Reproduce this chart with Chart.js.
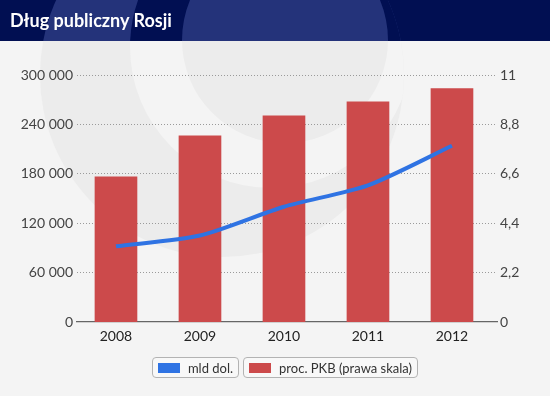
<!DOCTYPE html>
<html>
<head>
<meta charset="utf-8">
<script src="https://cdn.jsdelivr.net/npm/chart.js@4"></script>
<style>
    body { margin: 0; overflow: hidden; background: #f4f4f4; }
    #wrap { position: relative; width: 550px; height: 396px; }
    #dataChart { position: absolute; left: 0; top: 0; }
    #title {
        position: absolute; left: 10px; top: 0; height: 41px;
        color: #fff; font: bold 18px Lato, sans-serif; line-height: 40px;
    }
    #legend {
        position: absolute; left: 0; width: 570px; top: 357px;
        display: flex; justify-content: center; gap: 4px;
        font: 13px Lato, sans-serif; color: #333;
    }
    .item {
        display: flex; align-items: center; height: 19px;
        border: 1px solid #b3b3b3; border-radius: 4px; padding: 0 5px 0 5px;
        background: rgba(255,255,255,0.35);
    }
    .swatch { width: 22px; height: 10px; margin-right: 8px; }
</style>
</head>
<body>
<div id="wrap">
    <canvas id="dataChart" width="550" height="396"></canvas>
    <div id="title">Dług publiczny Rosji</div>
    <div id="legend"></div>
</div>
<script>
const years = [2008, 2009, 2010, 2011, 2012];
const debtUsd = [92000, 105000, 140000, 166000, 214000];
const debtPctGdp = [6.47, 8.29, 9.18, 9.81, 10.39];
const leftTicks = [0, 60000, 120000, 180000, 240000, 300000];
const rightTicks = [0, 2.2, 4.4, 6.6, 8.8, 11];

const ctx = document.getElementById('dataChart');

Chart.defaults.font.family = 'Lato';
Chart.defaults.font.size = 14;

// background, header and the faint logo behind the chart
function drawLogo(c, bg, fg) {
    c.fillStyle = fg;
    c.beginPath(); c.arc(222, 75, 182, 0, Math.PI * 2); c.fill();
    c.save();
    c.beginPath(); c.arc(222, 75, 182, 0, Math.PI * 2); c.clip();
    c.fillStyle = bg;
    c.beginPath(); c.arc(271, 47, 141, 0, Math.PI * 2); c.fill();
    c.fillStyle = fg;
    c.beginPath(); c.arc(285, 40, 103, 0, Math.PI * 2); c.fill();
    c.restore();
}

var backdrop = {
    id: 'backdrop',
    beforeDraw: function(chart) {
        const c = chart.ctx;
        c.save();
        c.fillStyle = '#f4f4f4';
        c.fillRect(0, 0, 550, 396);
        c.save();
        c.beginPath(); c.rect(0, 41, 550, 355); c.clip();
        drawLogo(c, '#f4f4f4', '#ececec');
        c.restore();
        c.save();
        c.beginPath(); c.rect(0, 0, 550, 41); c.clip();
        c.fillStyle = '#010f52';
        c.fillRect(0, 0, 550, 41);
        drawLogo(c, '#010f52', '#24337a');
        c.restore();
        c.restore();
    }
};

function fmtLeft(v) {
    return String(v).replace(/\B(?=(\d{3})+(?!\d))/g, ' ');
}
function fmtRight(v) {
    return String(Math.round(v * 10) / 10).replace('.', ',');
}

var chartData = {
    datasets: [{
        type: 'line',
        label: 'mld dol.',
        data: years.map((x, i) => ({ x: x, y: debtUsd[i] })),
        borderColor: '#2f73e3',
        backgroundColor: '#2f73e3',
        borderWidth: 4,
        pointRadius: 0,
        tension: 0.25,
        fill: false,
        yAxisID: 'y',
        order: 0
    }, {
        type: 'bar',
        label: 'proc. PKB (prawa skala)',
        data: years.map((x, i) => ({ x: x, y: debtPctGdp[i] })),
        backgroundColor: '#cc4a4b',
        barThickness: 42,
        yAxisID: 'y1',
        order: 1
    }]
};

var chartOptions = {
    responsive: false,
    animation: false,
    devicePixelRatio: 1,
    layout: { padding: { top: 75, bottom: 44, left: 0, right: 0 } },
    scales: {
        x: {
            type: 'linear',
            offset: false,
            min: years[0] - 0.464,
            max: years[years.length - 1] + 0.536,
            afterBuildTicks: function(axis) { axis.ticks = years.map(v => ({ value: v })); },
            afterFit: function(axis) { axis.height = 30; },
            grid: { display: false, drawTicks: false, offset: false },
            border: { display: true, color: '#666', width: 1.2 },
            ticks: { color: '#222', padding: 6, maxRotation: 0, autoSkip: false, callback: v => String(v) }
        },
        y: {
            position: 'left',
            min: 0,
            max: 300000,
            afterBuildTicks: function(axis) { axis.ticks = leftTicks.map(v => ({ value: v })); },
            afterFit: function(axis) { axis.width = 77; },
            grid: {
                drawTicks: false,
                color: c => c.tick && c.tick.value === 0 ? 'rgba(0,0,0,0)' : '#9a9a9a'
            },
            border: { display: false, dash: [1, 2] },
            ticks: { color: '#444', padding: 4, callback: fmtLeft }
        },
        y1: {
            position: 'right',
            min: 0,
            max: 11,
            afterBuildTicks: function(axis) { axis.ticks = rightTicks.map(v => ({ value: v })); },
            afterFit: function(axis) { axis.width = 53; },
            grid: { display: false, drawTicks: false },
            border: { display: false },
            ticks: { color: '#444', padding: 3, callback: fmtRight }
        }
    },
    plugins: {
        legend: { display: false },
        tooltip: { enabled: false }
    }
};

var myChart = new Chart(ctx, {
    data: chartData,
    options: chartOptions,
    plugins: [backdrop]
});

// html legend with the boxed items
var legendEl = document.getElementById('legend');
myChart.data.datasets.forEach(function(ds) {
    var item = document.createElement('div');
    item.className = 'item';
    var sw = document.createElement('span');
    sw.className = 'swatch';
    sw.style.background = ds.type === 'line' ? ds.borderColor : ds.backgroundColor;
    var txt = document.createElement('span');
    txt.textContent = ds.label;
    item.appendChild(sw);
    item.appendChild(txt);
    legendEl.appendChild(item);
});
</script>
</body>
</html>
